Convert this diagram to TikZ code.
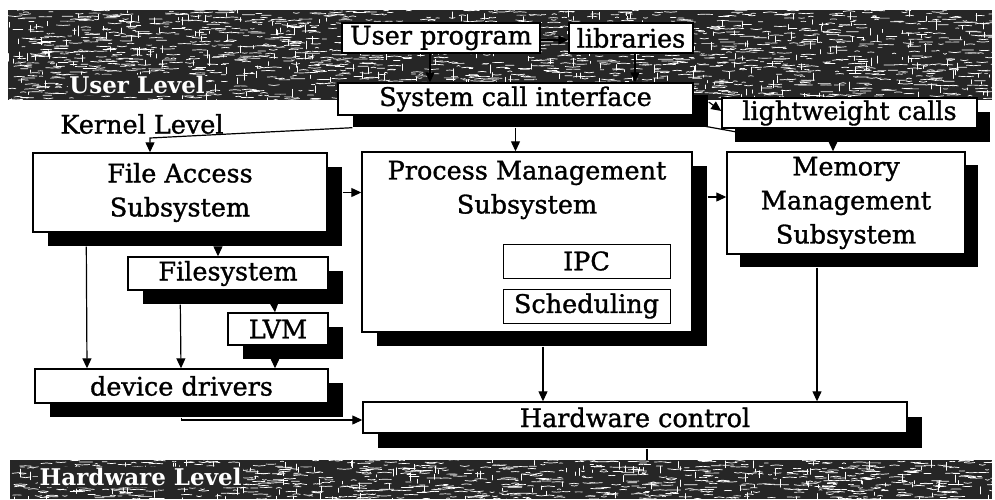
\documentclass[tikz,border=0pt]{standalone}
\usepackage{fontspec}
\setmainfont{DejaVu Serif}[UprightFeatures={FakeBold=1.2}]
\usetikzlibrary{arrows.meta,shadows,calc}

\begin{document}
\begin{tikzpicture}[x=1pt,y=-1pt,
  txt/.style={font=\fontsize{25.5}{34}\selectfont},
  box/.style={draw, fill=white, line width=1.4pt, inner sep=0pt, align=center, txt},
  shad/.style 2 args={drop shadow={shadow xshift=#1, shadow yshift=-#2, fill=black, opacity=1}},
  shadowed/.style={shad={15pt}{14pt}},
  thinbox/.style={box, line width=1pt},
  conn/.style={line width=1.2pt, -{Triangle[length=10pt,width=9pt]}},
  link/.style={line width=1.2pt},
  band/.style={fill=black!85},
  grain/.style={white, line width=0.7pt, line cap=round},
  levellabel/.style={font=\fontsize{23}{23}\selectfont\bfseries, text=white,
                     fill=black!85, inner sep=1.5pt, rounded corners=3pt},
]
\useasboundingbox (0,0) rectangle (995,499);

% ---- textured level bands ----
\pgfmathsetseed{11}
\begin{scope}
  \clip (8,10) rectangle (992,100);
  \fill[band] (8,10) rectangle (992,100);
  \foreach \i in {1,...,1700}{
    \pgfmathsetmacro\px{8+984*rnd}
    \pgfmathsetmacro\py{10+90*rnd}
    \pgfmathsetmacro\pl{3+12*rnd}
    \pgfmathsetmacro\pd{1.6*rnd-0.8}
    \draw[grain] (\px,\py) -- ++(\pl/2,\pd) -- ++(\pl/2,-\pd);
  }
  \foreach \i in {1,...,350}{
    \pgfmathsetmacro\px{8+984*rnd}
    \pgfmathsetmacro\py{10+90*rnd}
    \pgfmathsetmacro\pl{2+6*rnd}
    \draw[grain] (\px,\py) -- ++(0,\pl);
  }
\end{scope}
\begin{scope}
  \clip (10,460) rectangle (992,499);
  \fill[band] (10,460) rectangle (992,499);
  \foreach \i in {1,...,780}{
    \pgfmathsetmacro\px{10+982*rnd}
    \pgfmathsetmacro\py{460+39*rnd}
    \pgfmathsetmacro\pl{3+12*rnd}
    \pgfmathsetmacro\pd{1.6*rnd-0.8}
    \draw[grain] (\px,\py) -- ++(\pl/2,\pd) -- ++(\pl/2,-\pd);
  }
  \foreach \i in {1,...,160}{
    \pgfmathsetmacro\px{10+982*rnd}
    \pgfmathsetmacro\py{460+39*rnd}
    \pgfmathsetmacro\pl{2+6*rnd}
    \draw[grain] (\px,\py) -- ++(0,\pl);
  }
\end{scope}

\node[levellabel] (userlevel) at (137,85) {User Level};
\node[levellabel, anchor=west] (hwlevel) at (38,477) {Hardware Level};
\node[txt] (kernellevel) at (142,124) {Kernel Level};

% ---- user level ----
\node[box, minimum width=198pt, minimum height=30pt] (up) at (441,38) {User program};
\node[box, minimum width=124pt, minimum height=30pt] (lib) at (631,38) {libraries};
\node[box, shad={15pt}{12pt}, minimum width=355pt, minimum height=32pt] (sci) at (515.5,99) {System call interface};

% ---- kernel subsystems ----
\node[box, shadowed, minimum width=294pt, minimum height=79pt] (fa) at (180,192.5) {File Access\\Subsystem};
\node[box, shadowed, minimum width=200pt, minimum height=33pt] (fs) at (228,273.5) {Filesystem};
\node[box, shadowed, minimum width=100pt, minimum height=32pt] (lvm) at (278,329) {LVM};
\node[box, shadowed, minimum width=293pt, minimum height=34pt] (dd) at (181.5,386) {device drivers};
\node[box, shadowed, minimum width=330pt, minimum height=180pt] (pm) at (527,242) {};
\node[txt, align=center] (pmtext) at (527,190) {Process Management\\Subsystem};
\node[thinbox, minimum width=167pt, minimum height=34pt] (ipc) at (586.5,261) {IPC};
\node[thinbox, minimum width=167pt, minimum height=34pt] (sch) at (586.5,306) {Scheduling};
\node[box, shad={13pt}{13pt}, minimum width=238pt, minimum height=102pt] (mm) at (846,203) {Memory\\Management\\Subsystem};
\node[box, shad={15pt}{15pt}, minimum width=544pt, minimum height=31pt] (hc) at (635,417.5) {Hardware control};

% system call path to memory management, passing behind the lightweight calls box
\draw[link] ($(sci.south east)+(-3,8)$) -- (770,138) -| (833,142);
\draw[conn] (833,141) -- (mm.north -| 833,0);

\node[box, shad={13pt}{14pt}, minimum width=255pt, minimum height=30pt] (lw) at (849.5,113) {lightweight calls};

% ---- connectors ----
\draw[conn] (up.east |- 0,40) -- (lib.west |- 0,40);
\draw[conn] (up.south -| 430,0) -- (sci.north -| 430,0);
\draw[conn] (lib.south -| 635,0) -- (sci.north -| 635,0);
\draw[conn] ($(sci.east)+(15,3)$) -- ($(lw.west)+(0,-2)$);
\coordinate (kbend) at (150,138);
\draw[conn] ($(sci.south west)+(15,12)$) -- (kbend) -- (kbend |- fa.north);
\draw[conn] ($(sci.south)+(0,12)$) -- (pm.north -| sci.south);

\draw[conn] ($(fa.east)+(15,0)$) -- (pm.west |- fa.east);
\draw[conn] ($(fa.south)+(38,14)$) -- (fs.north -| 218,0);
\draw[conn] ($(fa.south west)+(54,14)$) -- (dd.north -| 87,0);
\draw[conn] ($(fs.south west)+(53,14)$) -- (dd.north -| 181,0);
\draw[conn] ($(fs.south west)+(147,14)$) -- (lvm.north -| 275,0);
\draw[conn] ($(lvm.south)+(-3,14)$) -- (dd.north -| 275,0);
\draw[conn] ($(dd.south)+(0,14)$) |- (hc.west |- 0,420);

\draw[conn] ($(pm.east)+(15,-45)$) -- (mm.west |- 0,197);
\draw[conn] ($(pm.south)+(16,14)$) -- (hc.north -| 543,0);
\draw[conn] ($(mm.south)+(-29,13)$) -- (hc.north -| 817,0);
\draw[link] ($(hc.south)+(12,15)$) -- (647,460);
\end{tikzpicture}
\end{document}
